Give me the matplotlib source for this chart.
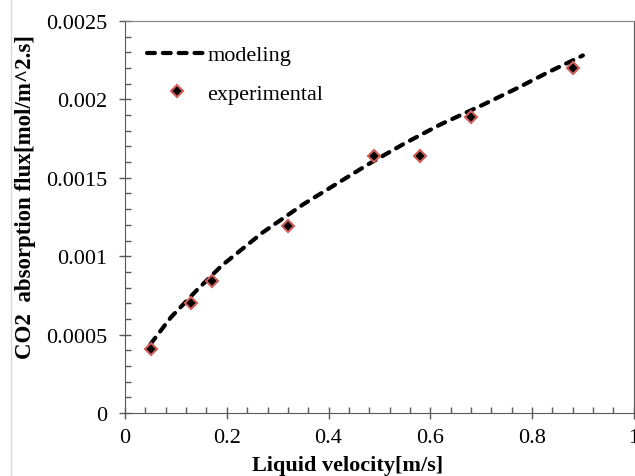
import matplotlib
matplotlib.use("Agg")
import matplotlib.pyplot as plt
from matplotlib.lines import Line2D
from matplotlib.ticker import MultipleLocator, FormatStrFormatter

# data
model_velocity = [0.05, 0.09, 0.14, 0.19, 0.27, 0.35, 0.42, 0.48, 0.55, 0.62, 0.70, 0.77, 0.83, 0.90]
model_flux = [0.00044, 0.00061, 0.00078, 0.00094, 0.00115, 0.00133, 0.00147,
              0.00159, 0.00172, 0.00184, 0.00196, 0.00207, 0.00217, 0.00228]

exp_velocity = [0.05, 0.13, 0.17, 0.32, 0.49, 0.58, 0.68, 0.88]
exp_flux = [0.00041, 0.00070, 0.00084, 0.00119, 0.00164, 0.00164, 0.00189, 0.00220]

plt.rcParams['font.family'] = ['Liberation Serif', 'DejaVu Serif']
plt.rcParams['font.size'] = 16

fig = plt.figure(figsize=(6.35, 4.77), dpi=100)
ax = fig.add_axes([0.197, 0.132, 0.801, 0.822])

ax.plot(model_velocity, model_flux, color="black", lw=3,
        linestyle=(0, (1.9, 1.9)), dash_capstyle="round", label="modeling")
ax.plot(exp_velocity, exp_flux, linestyle="none", marker="D", ms=6.5,
        mfc="black", mec="#d05c58", mew=1.5, label="experimental")

ax.set_xlim(0, 1)
ax.set_ylim(0, 0.0025)
ax.xaxis.set_major_locator(MultipleLocator(0.2))
ax.xaxis.set_minor_locator(MultipleLocator(0.04))
ax.yaxis.set_major_locator(MultipleLocator(0.0005))
ax.yaxis.set_minor_locator(MultipleLocator(0.0001))
ax.xaxis.set_major_formatter(FormatStrFormatter("%g"))
ax.yaxis.set_major_formatter(FormatStrFormatter("%g"))

ax.tick_params(which="major", direction="inout", length=9, width=1, color="#595959", pad=6)
ax.tick_params(which="minor", direction="in", length=4, width=1, color="#595959")
ax.tick_params(axis="y", which="major", pad=8)

for side in ["left", "bottom", "right"]:
    ax.spines[side].set_color("#595959")
ax.spines["top"].set_color("#808080")

ax.set_xlabel("Liquid velocity[m/s]", fontweight="bold")
ax.set_ylabel("CO2  absorption flux[mol/m^2.s]", fontweight="bold", fontsize=16.5)
ax.xaxis.set_label_coords(0.438, -0.107)
ax.yaxis.set_label_coords(-0.175, 0.554)

ax.legend(loc="upper left", bbox_to_anchor=(0.004, 0.99), frameon=False,
          handlelength=2.7, handletextpad=0.0, labelspacing=0.8)

# faint frame line on the left of the picture
fig.add_artist(Line2D([11 / 635, 11 / 635], [0, 1], color="#d9d9d9", lw=1))

fig.savefig("out.png", dpi=100)
